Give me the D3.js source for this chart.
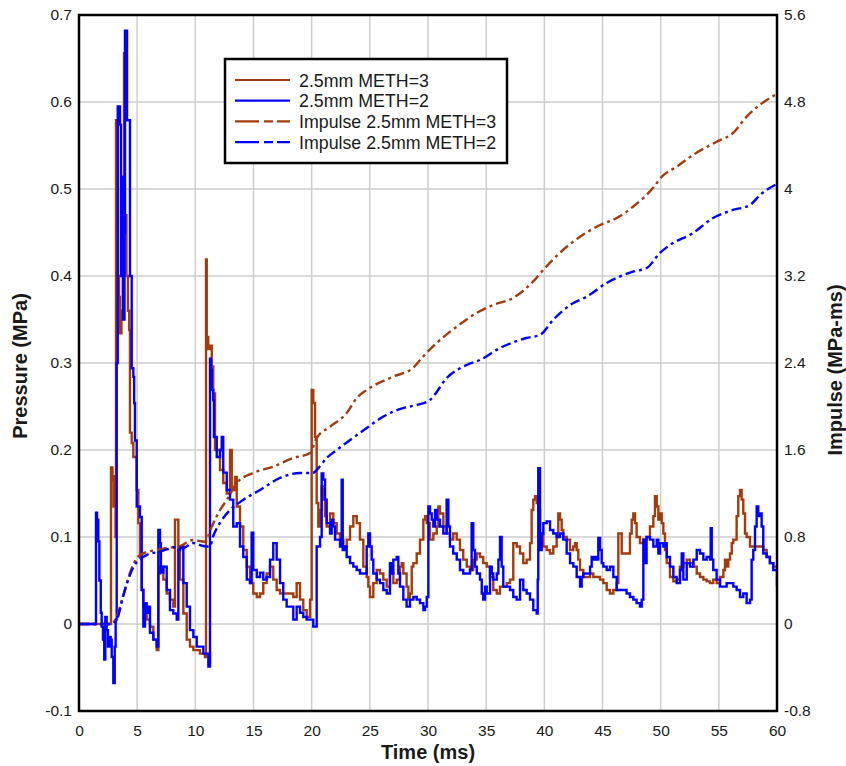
<!DOCTYPE html>
<html>
<head>
<meta charset="utf-8">
<script src="https://cdn.jsdelivr.net/npm/d3@7"></script>
<style>
  html, body { margin: 0; padding: 0; background: #fff; }
  svg { display: block; }
  text { font-family: "Liberation Sans", Arial, sans-serif; fill: #1a1a1a; }
</style>
</head>
<body>
<svg id="chart" width="846" height="766"></svg>
<script>
// Pressure traces (MPa) versus time (ms)
const meth3Time = [0,2.66,2.75,2.88,2.97,3.05,3.14,3.18,3.31,3.44,3.52,3.65,3.78,3.87,3.95,4.08,4.21,4.32,4.38,4.53,4.67,4.96,5.10,5.24,5.39,5.53,5.67,5.82,6.10,6.39,6.68,6.82,6.96,7.25,7.54,7.82,8.11,8.25,8.40,8.54,8.68,8.97,9.26,9.54,9.83,10.40,10.83,10.92,10.98,11.11,11.26,11.41,11.54,11.69,11.84,12.12,12.40,12.70,12.98,13.13,13.26,13.41,13.56,13.84,14.12,14.42,14.70,14.98,15.28,15.56,15.84,16.13,16.42,16.70,16.99,17.28,17.85,18.42,18.71,19.00,19.28,19.57,19.86,20.00,20.14,20.29,20.43,20.57,20.72,20.86,21.00,21.15,21.29,21.58,21.86,22.15,22.44,22.72,23.01,23.30,23.58,23.87,24.15,24.44,24.73,24.87,25.01,25.30,25.59,25.87,26.16,26.45,26.73,27.02,27.31,27.59,27.74,27.88,28.16,28.31,28.45,28.60,28.74,29.03,29.31,29.60,29.75,29.89,30.17,30.46,30.75,30.89,31.03,31.32,31.60,31.89,32.17,32.47,32.75,33.03,33.33,33.61,33.89,34.19,34.47,34.75,35.05,35.33,35.61,35.91,36.19,36.47,36.77,37.05,37.33,37.62,37.91,38.19,38.48,38.77,38.91,39.05,39.20,39.34,39.48,39.63,39.91,40.20,40.49,40.77,41.06,41.20,41.35,41.49,41.63,41.92,42.21,42.49,42.64,42.78,42.92,43.07,43.35,43.64,43.93,44.21,44.50,44.79,45.07,45.36,45.64,45.93,46.22,46.36,46.50,46.65,47.07,47.36,47.51,47.65,47.79,47.93,48.22,48.51,48.79,49.08,49.37,49.51,49.66,49.80,49.94,50.09,50.23,50.37,50.52,50.80,51.09,51.38,51.66,51.95,52.24,52.52,52.81,53.10,53.38,53.67,53.96,54.24,54.52,54.81,55.10,55.39,55.53,55.67,55.81,55.96,56.11,56.24,56.53,56.67,56.82,56.96,57.10,57.25,57.39,57.68,58.54,58.82,59.11,59.39,59.68,60];
const meth3Pressure = [0,0,0.18,0.165,0.135,0.17,0.10,0.579,0.40,0.376,0.334,0.36,0.40,0.656,0.47,0.40,0.36,0.338,0.22,0.208,0.192,0.154,0.116,0.077,0.039,0.02,0.012,0.005,-0.003,-0.018,-0.03,0.058,0.066,0.051,0.035,0.028,0.02,0.12,0.12,0.085,0.051,0.012,-0.018,-0.026,-0.03,-0.034,-0.038,0.419,0.33,0.316,0.32,0.296,0.265,0.2,0.2,0.177,0.162,0.15,0.2,0.154,0.154,0.169,0.135,0.112,0.085,0.066,0.047,0.035,0.031,0.035,0.047,0.058,0.066,0.051,0.039,0.035,0.035,0.031,0.047,0.028,0.016,0.008,0.028,0.269,0.254,0.215,0.139,0.112,0.131,0.158,0.143,0.124,0.112,0.127,0.116,0.104,0.097,0.089,0.097,0.112,0.124,0.116,0.097,0.066,0.054,0.043,0.031,0.047,0.062,0.058,0.051,0.043,0.058,0.047,0.051,0.066,0.07,0.058,0.043,0.028,0.035,0.066,0.07,0.081,0.097,0.12,0.124,0.116,0.097,0.104,0.112,0.135,0.127,0.112,0.104,0.097,0.104,0.097,0.085,0.074,0.066,0.062,0.074,0.081,0.077,0.07,0.066,0.054,0.039,0.035,0.043,0.043,0.047,0.051,0.093,0.089,0.081,0.07,0.074,0.093,0.131,0.143,0.147,0.139,0.131,0.104,0.089,0.085,0.081,0.089,0.1,0.127,0.12,0.108,0.1,0.097,0.085,0.089,0.093,0.085,0.074,0.062,0.054,0.054,0.058,0.054,0.054,0.051,0.047,0.039,0.035,0.039,0.047,0.104,0.104,0.081,0.081,0.104,0.12,0.127,0.116,0.1,0.093,0.097,0.1,0.112,0.124,0.147,0.135,0.12,0.127,0.116,0.104,0.085,0.07,0.054,0.049,0.051,0.066,0.07,0.074,0.07,0.066,0.058,0.054,0.051,0.049,0.047,0.051,0.047,0.054,0.062,0.074,0.066,0.074,0.081,0.093,0.097,0.124,0.147,0.154,0.143,0.127,0.104,0.1,0.089,0.089,0.085,0.077,0.07,0.066,0.066];

const meth2Time = [0,1.38,1.46,1.55,1.66,1.75,1.87,1.95,2.06,2.17,2.26,2.38,2.49,2.60,2.72,2.81,2.95,3.07,3.15,3.24,3.33,3.46,3.52,3.61,3.67,3.78,3.91,3.95,4.09,4.13,4.30,4.38,4.53,4.67,4.74,4.81,4.96,5.24,5.39,5.53,5.67,5.82,5.96,6.10,6.39,6.68,6.82,6.96,7.04,7.25,7.54,7.82,8.11,8.40,8.54,8.68,8.97,9.26,9.54,9.83,10.12,10.69,11.12,11.26,11.35,11.41,11.54,11.60,11.84,12.12,12.27,12.40,12.70,12.98,13.26,13.56,13.84,14.12,14.42,14.70,14.84,14.98,15.28,15.56,15.84,16.13,16.42,16.70,16.99,17.28,17.56,17.85,18.42,18.71,19.00,19.28,19.57,20.14,20.29,20.43,20.72,20.86,21.00,21.15,21.29,21.58,21.72,21.86,22.01,22.44,22.58,22.67,22.87,23.01,23.30,23.58,23.87,24.15,24.44,24.73,24.87,25.01,25.16,25.30,25.59,25.87,26.16,26.45,26.73,26.88,27.02,27.31,27.45,27.59,27.88,28.16,28.45,28.74,29.03,29.31,29.60,29.75,29.89,30.03,30.17,30.32,30.46,30.61,30.75,31.03,31.32,31.60,31.75,31.89,32.17,32.47,32.75,33.03,33.33,33.61,33.75,33.89,34.04,34.19,34.47,34.62,34.75,34.90,35.05,35.33,35.48,35.61,35.91,36.05,36.19,36.33,36.47,36.77,37.05,37.33,37.62,37.91,38.19,38.48,38.77,39.05,39.34,39.43,39.48,39.63,39.77,39.91,40.20,40.49,40.77,41.06,41.35,41.63,41.92,42.21,42.49,42.78,43.07,43.21,43.35,43.64,43.93,44.07,44.21,44.36,44.50,44.64,44.79,44.93,45.07,45.36,45.64,45.93,46.22,47.07,47.36,47.65,47.93,48.22,48.37,48.51,48.65,48.79,49.08,49.37,49.66,49.80,49.94,50.23,50.37,50.52,50.80,51.09,51.38,51.66,51.81,51.95,52.24,52.52,52.81,53.10,53.38,53.67,53.96,54.24,54.30,54.39,54.52,54.81,55.10,55.67,56.24,56.53,56.82,57.10,57.39,57.68,57.82,57.96,58.11,58.25,58.39,58.54,58.68,58.82,59.11,59.39,59.68,60];
const meth2Pressure = [0,0,0.128,0.12,0.095,0.05,0.013,-0.003,-0.018,-0.041,0.008,-0.007,-0.026,-0.015,-0.018,-0.038,-0.068,-0.026,0.005,0.3,0.595,0.595,0.574,0.40,0.514,0.35,0.45,0.682,0.682,0.579,0.579,0.40,0.294,0.284,0.254,0.211,0.135,0.123,0.039,-0.003,0.024,0.013,0.02,-0.01,-0.018,-0.026,0.108,0.093,0.059,0.066,0.039,0.016,0.012,0.005,0.085,0.089,0.047,0.02,-0.007,-0.015,-0.026,-0.034,-0.049,0.305,0.292,0.269,0.257,0.215,0.192,0.2,0.215,0.174,0.154,0.143,0.112,0.116,0.089,0.077,0.051,0.047,0.105,0.062,0.054,0.059,0.051,0.054,0.074,0.093,0.074,0.047,0.028,0.02,0.005,0.02,0.013,0.008,0.005,-0.003,-0.003,0.089,0.1,0.173,0.166,0.143,0.116,0.104,0.12,0.112,0.097,0.089,0.166,0.085,0.089,0.077,0.07,0.066,0.062,0.058,0.058,0.089,0.104,0.089,0.074,0.058,0.051,0.047,0.039,0.035,0.07,0.058,0.074,0.077,0.058,0.043,0.028,0.02,0.028,0.031,0.028,0.024,0.016,0.02,0.031,0.135,0.127,0.12,0.112,0.131,0.12,0.112,0.104,0.143,0.112,0.089,0.081,0.074,0.062,0.058,0.058,0.062,0.116,0.085,0.066,0.058,0.051,0.035,0.028,0.043,0.035,0.066,0.058,0.051,0.058,0.074,0.1,0.066,0.043,0.043,0.039,0.031,0.028,0.051,0.039,0.035,0.028,0.016,0.012,0.051,0.179,0.085,0.104,0.116,0.118,0.108,0.104,0.1,0.104,0.097,0.081,0.07,0.066,0.054,0.043,0.054,0.058,0.058,0.066,0.077,0.074,0.077,0.074,0.099,0.085,0.07,0.066,0.062,0.066,0.054,0.039,0.035,0.031,0.028,0.024,0.02,0.028,0.097,0.07,0.1,0.097,0.089,0.097,0.081,0.093,0.089,0.093,0.077,0.066,0.054,0.047,0.062,0.081,0.051,0.07,0.066,0.074,0.085,0.081,0.074,0.077,0.074,0.11,0.074,0.062,0.051,0.043,0.047,0.043,0.039,0.031,0.035,0.024,0.028,0.074,0.085,0.112,0.135,0.124,0.127,0.112,0.081,0.077,0.07,0.062,0.043];

// Cumulative impulse (MPa-ms)
const impulse3Time = [0,2.75,3.24,3.78,4.38,5.07,5.93,6.68,7.54,8.68,9.80,10.83,11.41,12.12,12.70,13.56,14.96,16.68,18.40,19.86,20.43,21.58,23.01,23.87,24.73,26.99,28.71,29.57,30.75,32.47,34.19,35.59,37.31,39.03,40.06,41.60,43.07,44.79,46.22,47.62,49.34,50.09,51.38,52.78,54.82,56.22,57.39,59.83,60];
const impulse3Value = [0,0,0.067,0.251,0.469,0.619,0.665,0.680,0.699,0.717,0.772,0.757,0.895,1.048,1.140,1.297,1.389,1.446,1.526,1.572,1.710,1.814,1.940,2.078,2.152,2.274,2.354,2.458,2.584,2.734,2.860,2.933,2.998,3.148,3.274,3.439,3.561,3.669,3.733,3.837,4.009,4.113,4.205,4.313,4.435,4.515,4.665,4.864,4.874];
const impulse2Time = [0,2.75,3.24,3.78,4.64,5.82,6.96,8.40,8.94,9.80,10.66,11.26,11.52,12.12,12.98,14.10,15.56,17.28,19.00,20.11,20.43,21.29,22.15,23.30,24.73,26.13,27.85,29.03,30.17,31.61,33.33,34.47,36.19,38.48,39.63,40.75,42.21,43.64,45.36,47.62,48.80,49.94,50.80,52.78,54.50,56.22,57.68,58.54,59.83,60];
const impulse2Value = [0,0,0.037,0.251,0.515,0.634,0.665,0.708,0.699,0.745,0.717,0.711,0.803,0.929,1.048,1.140,1.232,1.343,1.389,1.389,1.416,1.526,1.600,1.692,1.802,1.906,1.986,2.014,2.060,2.262,2.382,2.428,2.538,2.630,2.658,2.795,2.933,3.010,3.136,3.240,3.274,3.412,3.485,3.595,3.733,3.807,3.853,3.945,4.037,4.046];

// Axis ticks
const timeTicks = [0,5,10,15,20,25,30,35,40,45,50,55,60];
const pressureTicks = [-0.1,0,0.1,0.2,0.3,0.4,0.5,0.6,0.7];
const impulseTicks = [-0.8,0,0.8,1.6,2.4,3.2,4,4.8,5.6];

const legendLabels = ["2.5mm METH=3","2.5mm METH=2","Impulse 2.5mm METH=3","Impulse 2.5mm METH=2"];

const BROWN = "#a33c0c";
const BLUE = "#0000ff";

const svg = d3.select("#chart");
const plot = { left: 79, top: 15, right: 777, bottom: 711 };

const x = d3.scaleLinear().domain([0, 60]).range([plot.left, plot.right]);
const y = d3.scaleLinear().domain([-0.1, 0.7]).range([plot.bottom, plot.top]);
const y2 = d3.scaleLinear().domain([-0.8, 5.6]).range([plot.bottom, plot.top]);

// Grid
const grid = svg.append("g").attr("stroke", "#cdcdcd").attr("stroke-width", 1.5);
grid.selectAll("line.v").data(timeTicks).join("line")
  .attr("x1", d => x(d)).attr("x2", d => x(d))
  .attr("y1", plot.top).attr("y2", plot.bottom);
grid.selectAll("line.h").data(pressureTicks).join("line")
  .attr("x1", plot.left).attr("x2", plot.right)
  .attr("y1", d => y(d)).attr("y2", d => y(d));

// Axes (labels only)
function styleAxis(g, size) {
  g.select(".domain").remove();
  g.selectAll(".tick line").remove();
  g.selectAll("text").attr("font-size", size).attr("fill", "#1a1a1a")
    .attr("font-family", '"Liberation Sans", Arial, sans-serif');
}
svg.append("g").attr("transform", `translate(0,${plot.bottom})`)
  .call(d3.axisBottom(x).tickValues(timeTicks).tickFormat(d => String(d)).tickSize(0).tickPadding(14))
  .call(g => styleAxis(g, 15.5));
svg.append("g").attr("transform", `translate(${plot.left},0)`)
  .call(d3.axisLeft(y).tickValues(pressureTicks).tickFormat(d => String(d)).tickSize(0).tickPadding(7))
  .call(g => styleAxis(g, 15.5));
svg.append("g").attr("transform", `translate(${plot.right},0)`)
  .call(d3.axisRight(y2).tickValues(impulseTicks).tickFormat(d => String(d)).tickSize(0).tickPadding(7))
  .call(g => styleAxis(g, 15.5));

// Data lines
svg.append("clipPath").attr("id", "clip").append("rect")
  .attr("x", plot.left).attr("y", plot.top)
  .attr("width", plot.right - plot.left).attr("height", plot.bottom - plot.top);
const lines = svg.append("g").attr("clip-path", "url(#clip)").attr("fill", "none");

const pressureLine = d3.line().x(d => x(d[0])).y(d => y(d[1])).curve(d3.curveStepAfter);
const impulseLine = d3.line().x(d => x(d[0])).y(d => y2(d[1])).curve(d3.curveMonotoneX);

lines.append("path").datum(d3.zip(meth3Time, meth3Pressure))
  .attr("d", pressureLine).attr("stroke", BROWN).attr("stroke-width", 2.4);
lines.append("path").datum(d3.zip(meth2Time, meth2Pressure))
  .attr("d", pressureLine).attr("stroke", BLUE).attr("stroke-width", 2.4);
lines.append("path").datum(d3.zip(impulse3Time, impulse3Value))
  .attr("d", impulseLine).attr("stroke", BROWN).attr("stroke-width", 2.4)
  .attr("stroke-dasharray", "10,4,3,4");
lines.append("path").datum(d3.zip(impulse2Time, impulse2Value))
  .attr("d", impulseLine).attr("stroke", BLUE).attr("stroke-width", 2.4)
  .attr("stroke-dasharray", "10,4,3,4");

// Frame
svg.append("rect").attr("x", plot.left).attr("y", plot.top)
  .attr("width", plot.right - plot.left).attr("height", plot.bottom - plot.top)
  .attr("fill", "none").attr("stroke", "#000").attr("stroke-width", 2.5);

// Axis titles
svg.append("text").attr("x", (plot.left + plot.right) / 2).attr("y", 759)
  .attr("text-anchor", "middle").attr("font-size", 20).attr("font-weight", "bold")
  .text("Time (ms)");
svg.append("text").attr("transform", "translate(27,366) rotate(-90)")
  .attr("text-anchor", "middle").attr("font-size", 20).attr("font-weight", "bold")
  .text("Pressure (MPa)");
svg.append("text").attr("transform", "translate(842,370) rotate(-90)")
  .attr("text-anchor", "middle").attr("font-size", 20).attr("font-weight", "bold")
  .text("Impulse (MPa-ms)");

// Legend
const legend = svg.append("g");
legend.append("rect").attr("x", 225).attr("y", 59).attr("width", 282).attr("height", 104)
  .attr("fill", "#fff").attr("stroke", "#000").attr("stroke-width", 2.5);
const legendStyles = [
  { color: BROWN, dash: null },
  { color: BLUE, dash: null },
  { color: BROWN, dash: "24,5,9,4" },
  { color: BLUE, dash: "24,5,9,4" }
];
legendLabels.forEach((label, i) => {
  const cy = 80 + i * 20.7;
  legend.append("line").attr("x1", 235).attr("x2", 290).attr("y1", cy).attr("y2", cy)
    .attr("stroke", legendStyles[i].color).attr("stroke-width", 2.2)
    .attr("stroke-dasharray", legendStyles[i].dash);
  legend.append("text").attr("x", 299).attr("y", cy + 6.6)
    .attr("font-size", 17.8).text(label);
});
</script>
</body>
</html>
